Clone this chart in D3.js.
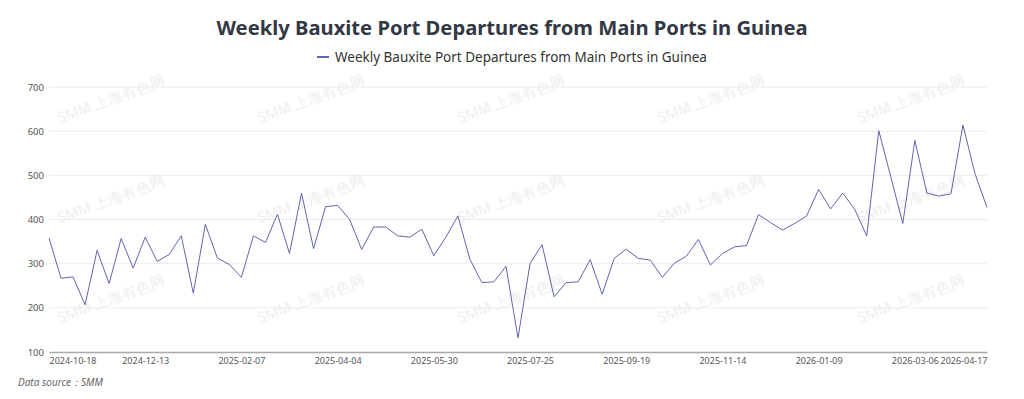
<!DOCTYPE html>
<html>
<head>
<meta charset="utf-8">
<script src="https://cdn.jsdelivr.net/npm/d3@7"></script>
<style>
  body { margin: 0; background: #fff; }
  svg { display: block; font-family: "Noto Sans", "Open Sans", sans-serif; }
</style>
</head>
<body>
<div id="chart"></div>
<script>
// weekly series, first week and values
var seriesName = "Weekly Bauxite Port Departures from Main Ports in Guinea";
var startDate = "2024-10-18";
var departures = [
  358, 267, 270, 207, 330, 255, 357, 290, 360, 305,
  321, 363, 233, 389, 313, 298, 269, 363, 348, 412,
  323, 460, 334, 429, 432, 400, 332, 383, 383, 363,
  360, 378, 318, 360, 408, 310, 257, 259, 294, 132,
  300, 343, 225, 257, 259, 309, 231, 312, 333, 312,
  308, 269, 301, 317, 355, 297, 323, 338, 341, 411,
  393, 376, 391, 408, 468, 424, 460, 423, 363, 601,
  497, 391, 579, 460, 453, 458, 614, 504, 427
];
var xTickLabels = ["2024-10-18", "2024-12-13", "2025-02-07", "2025-04-04", "2025-05-30",
  "2025-07-25", "2025-09-19", "2025-11-14", "2026-01-09", "2026-03-06", "2026-04-17"];
var yTicks = [100, 200, 300, 400, 500, 600, 700];

var W = 1024, H = 399;
var margin = { top: 87, right: 37, bottom: 47, left: 49 },
  width = W - margin.left - margin.right,
  height = H - margin.top - margin.bottom;

var parse = d3.timeParse("%Y-%m-%d");
var fmt = d3.timeFormat("%Y-%m-%d");
var t0 = parse(startDate);
var data = departures.map(function (v, i) { return { date: d3.timeWeek.offset(t0, i), value: v }; });

var lineColor = "#6265ad";

var svg = d3.select("#chart").append("svg")
  .attr("width", W).attr("height", H);

// watermark
var wm = svg.append("g").attr("class", "watermark");
[123, 223, 323].forEach(function (wy) {
  [60, 260, 460, 660, 860].forEach(function (wx) {
    wm.append("text")
      .attr("transform", "translate(" + wx + "," + wy + ") rotate(-20)")
      .attr("font-size", 14.5)
      .attr("fill", "#eeeeee")
      .text("SMM 上海有色网");
  });
});

// title + legend
svg.append("text")
  .attr("x", W / 2).attr("y", 35)
  .attr("text-anchor", "middle")
  .attr("font-size", 20.2).attr("font-weight", "bold")
  .attr("fill", "#333844")
  .text(seriesName);

var leg = svg.append("g").attr("transform", "translate(317,57)");
leg.append("line").attr("x1", 0).attr("x2", 12).attr("y1", 0).attr("y2", 0)
  .attr("stroke", lineColor).attr("stroke-width", 2);
leg.append("text").attr("x", 18).attr("y", 5)
  .attr("font-size", 13.5).attr("fill", "#333")
  .text(seriesName);

var g = svg.append("g").attr("transform", "translate(" + margin.left + "," + margin.top + ")");

var x = d3.scaleTime()
  .domain(d3.extent(data, function (d) { return d.date; }))
  .range([0, width]);
var y = d3.scaleLinear().domain([100, 700]).range([height, 0]);

// grid
g.append("g")
  .selectAll("line")
  .data(yTicks.slice(1))
  .enter().append("line")
  .attr("x1", 0).attr("x2", width)
  .attr("y1", function (d) { return y(d); }).attr("y2", function (d) { return y(d); })
  .attr("stroke", "#ececec");

// y axis labels
var yAxis = g.append("g")
  .call(d3.axisLeft(y).tickValues(yTicks).tickSize(0).tickPadding(5));
yAxis.select(".domain").remove();
yAxis.selectAll("text").attr("font-size", 9.5).attr("fill", "#555")
  .style("font-family", "\"Noto Sans\", sans-serif");

// x axis
var xAxis = g.append("g")
  .attr("transform", "translate(0," + height + ")")
  .call(d3.axisBottom(x).tickValues(xTickLabels.map(parse)).tickFormat(fmt).tickSize(0).tickPadding(6));
xAxis.select(".domain").attr("stroke", "#a9a9a9").attr("stroke-width", 1.5);
xAxis.selectAll("text").attr("font-size", 9).attr("fill", "#555")
  .style("font-family", "\"Noto Sans\", sans-serif")
  .attr("text-anchor", function (d, i) {
    if (i === 0) return "start";
    if (i === xTickLabels.length - 1) return "end";
    return "middle";
  });

// line
g.append("path")
  .datum(data)
  .attr("fill", "none")
  .attr("stroke", lineColor)
  .attr("stroke-width", 1)
  .attr("d", d3.line()
    .x(function (d) { return x(d.date); })
    .y(function (d) { return y(d.value); }));

svg.append("text")
  .attr("x", 18).attr("y", 386)
  .attr("font-size", 10).attr("font-style", "italic")
  .attr("fill", "#666")
  .text("Data source：SMM");
</script>
</body>
</html>
